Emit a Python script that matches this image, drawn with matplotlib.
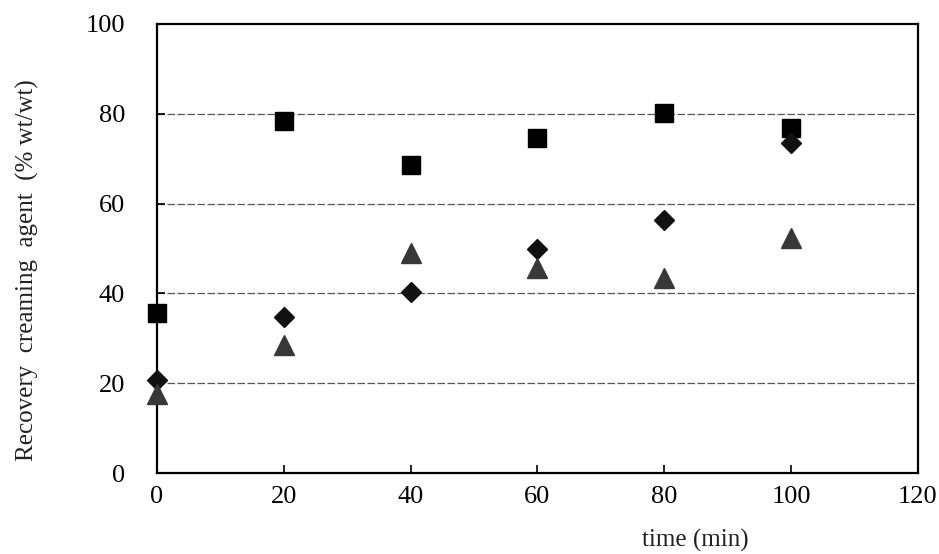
import matplotlib.pyplot as plt

plt.rcParams['font.family'] = ['Liberation Serif', 'DejaVu Serif']

# data
time = [0, 20, 40, 60, 80, 100]
squares = [35.6, 78.4, 68.6, 74.6, 80.2, 76.8]
diamonds = [20.7, 34.7, 40.3, 49.9, 56.3, 73.5]
triangles = [17.6, 28.6, 49.0, 45.7, 43.4, 52.3]

xticks = [0, 20, 40, 60, 80, 100, 120]
yticks = [0, 20, 40, 60, 80, 100]

fig = plt.figure(figsize=(9.39, 5.54), dpi=100)
ax = fig.add_axes([0.1672, 0.1462, 0.8104, 0.8105])

# dashed horizontal grid lines
for y in yticks[1:-1]:
    ax.axhline(y, color='#555555', lw=0.9, ls=(0, (6, 2)), zorder=1)

ax.plot(time, squares, 's', color='black', ms=13, clip_on=False, zorder=3)
ax.plot(time, diamonds, 'D', color='#111111', ms=10, clip_on=False, zorder=3)
ax.plot(time, triangles, '^', color='#383838', ms=15, clip_on=False, zorder=3)

ax.set_xlim(0, 120)
ax.set_ylim(0, 100)
ax.set_xticks(xticks)
ax.set_yticks(yticks)
ax.tick_params(direction='in', length=6, width=1.2, labelsize=19)
ax.tick_params(axis='y', pad=23)
ax.tick_params(axis='x', pad=9)
for s in ax.spines.values():
    s.set_linewidth(1.6)

fig.text(27/939, 1 - 270/554, 'Recovery  creaming  agent  (% wt/wt)',
         rotation=90, ha='center', va='center', fontsize=18, color='#222222')
fig.text(695/939, 1 - 540/554, 'time (min)', ha='center', va='center',
         fontsize=18, color='#222222')

fig.savefig('out.png', dpi=100)
